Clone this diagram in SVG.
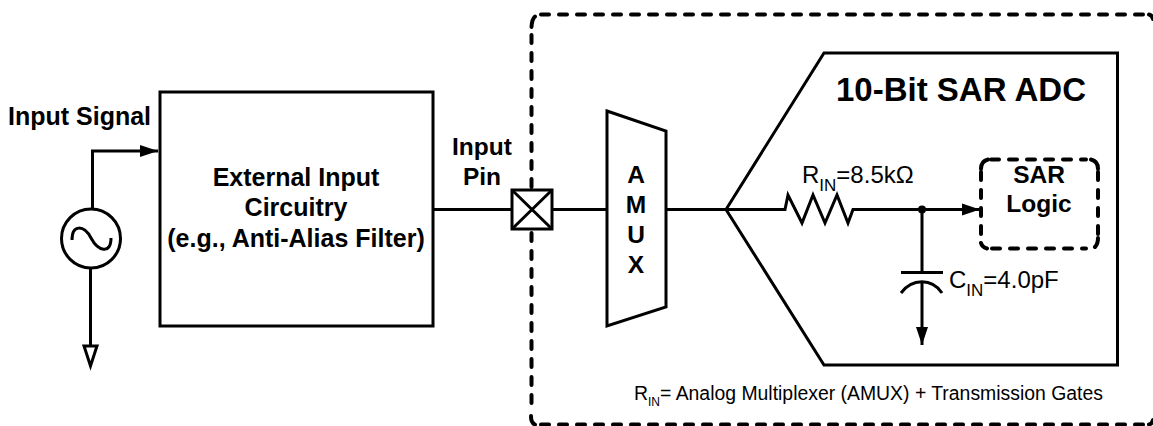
<svg xmlns="http://www.w3.org/2000/svg" width="1153" height="426" viewBox="0 0 1153 426">
<style>
text{font-family:"Liberation Sans",Arial,sans-serif;fill:#000}
.b{font-weight:bold;font-size:24.500px;text-anchor:middle}
.e{font-weight:bold;font-size:25px;text-anchor:middle}
.r{font-size:24px}
.s{font-size:17px}
.l{fill:none;stroke:#000;stroke-width:3}
.d{fill:none;stroke:#000;stroke-width:4;stroke-linecap:round;stroke-dasharray:8 10}
.c{fill:none;stroke:#000;stroke-width:4;stroke-linecap:round}
</style>
<defs>
<marker id="a" markerUnits="userSpaceOnUse" markerWidth="20" markerHeight="14" refX="18" refY="6" orient="auto" overflow="visible"><path d="M0 0L18 6L0 12Z" fill="#000"/></marker>
</defs>
<rect width="1153" height="426" fill="#fff"/>
<g id="device-boundary">
<path class="d" d="M541 14.500H1145M531.500 35V410M541 424.500H1145"/>
<path class="c" d="M531.500 27Q532 19 535 16.500M531 416Q531 423 535 424.500M1149 424.500Q1152 424 1153 420M1149 14.500Q1152 15 1153 19"/>
</g>
<g id="connectors">
<path class="l" d="M92.500 208V151H158" marker-end="url(#a)"/>
<path class="l" d="M90.500 268V346"/>
<path class="l" d="M433 209.500H512"/>
<path class="l" d="M552 209.500H607"/>
<path class="l" d="M666 209.500H785L788 195L802 223L813 195L825 223L837 195L848 223L853 209.500H980" marker-end="url(#a)"/>
<path class="l" d="M922 209.500V272"/>
<path class="l" d="M922 282V345" marker-end="url(#a)"/>
<circle cx="922" cy="209.500" r="4" fill="#000"/>
</g>
<g id="source">
<circle class="l" cx="91" cy="238.500" r="29.500"/>
<path class="l" d="M72 240C72 224 84 225 91 238S111 255 111 238"/>
<path class="l" d="M84 346H97L90.500 366Z"/>
<text x="8" y="125" style="font-weight:bold;font-size:25px">Input Signal</text>
</g>
<g id="external-circuitry">
<rect class="l" x="160" y="92" width="273" height="234"/>
<text class="e" x="296" y="186">External Input</text>
<text class="e" x="296" y="216">Circuitry</text>
<text class="e" x="296" y="247">(e.g., Anti-Alias Filter)</text>
</g>
<g id="input-pin">
<text class="b" x="482" y="155">Input</text>
<text class="b" x="482" y="185">Pin</text>
<rect class="l" x="512" y="190" width="40" height="39" style="fill:#fff"/>
<path class="l" d="M512 190L552 229M552 190L512 229"/>
</g>
<g id="amux">
<path class="l" d="M607 111L666 131V307L607 326Z"/>
<text class="b" x="636" y="183">A</text>
<text class="b" x="636" y="213">M</text>
<text class="b" x="636" y="243">U</text>
<text class="b" x="636" y="273">X</text>
</g>
<g id="adc">
<path class="l" d="M726 209.500L824 53H1117.500V365H824Z"/>
<text x="836" y="101" style="font-weight:bold;font-size:33px">10-Bit SAR ADC</text>
<text x="802" y="183" class="r">R<tspan class="s" dy="8">IN</tspan><tspan dy="-8">=8.5kΩ</tspan></text>
<path class="l" d="M901 272.500H943M901 293C912 278 932 278 942 293"/>
<text x="949" y="288" class="r">C<tspan class="s" dy="8">IN</tspan><tspan dy="-8">=4.0pF</tspan></text>
<text x="634" y="400" style="font-size:19.400px">R<tspan dy="6" style="font-size:12px">IN</tspan><tspan dy="-6">= Analog Multiplexer (AMUX) + Transmission Gates</tspan></text>
</g>
<g id="sar-logic">
<path class="d" d="M991 159.500H1086M981 172V236M1098 172V236M992 248.500H1086"/>
<path class="c" d="M981 169Q981 161 988 159.500M1091 159.500Q1098 161 1098 169M981 243Q982 247 987 248.500M1095 247Q1098 244 1098 238"/>
<text class="b" x="1039" y="183">SAR</text>
<text class="b" x="1039" y="212">Logic</text>
</g>
</svg>
